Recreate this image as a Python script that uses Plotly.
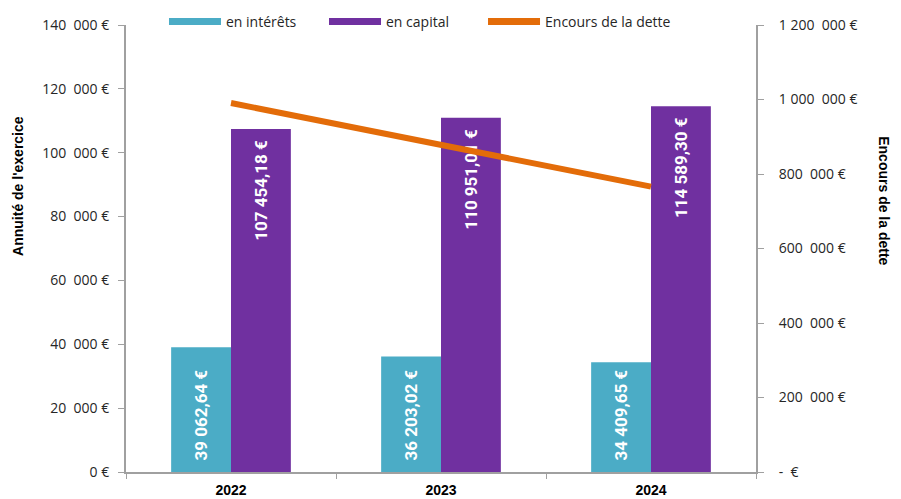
import plotly.graph_objects as go

# ── Data ──────────────────────────────────────────────────────────────────────
years = ['2022', '2023', '2024']
interets = [39062.64, 36203.02, 34409.65]
capital = [107454.18, 110951.01, 114589.30]
encours = [990500, 880000, 766000]

interets_txt = ['39 062,64 €', '36 203,02 €', '34 409,65 €']
capital_txt = ['107 454,18 €', '110 951,01 €', '114 589,30 €']

left_vals = [0, 20000, 40000, 60000, 80000, 100000, 120000, 140000]
left_text = ['0 €', '20  000 €', '40  000 €', '60  000 €', '80  000 €',
             '100  000 €', '120  000 €', '140  000 €']
right_vals = [0, 200000, 400000, 600000, 800000, 1000000, 1200000]
right_text = ['-  €', '200  000 €', '400  000 €', '600  000 €', '800  000 €',
              '1 000  000 €', '1 200  000 €']

CYAN = '#4BACC6'
PURPLE = '#7030A0'
ORANGE = '#E36C09'
FONT = 'Open Sans, Noto Sans, sans-serif'
BOLD = 'Liberation Sans, Arial, sans-serif'
LABEL_FONT = dict(family='Roboto, sans-serif', size=17, color='white')

# page body has an 8px margin, so the figure is 8px smaller than the window
W, H = 893, 491

# ── Figure ────────────────────────────────────────────────────────────────────
fig = go.Figure()

fig.add_trace(go.Bar(
    x=years, y=interets, name='en intérêts', showlegend=False,
    marker=dict(color=CYAN, line=dict(width=0)),
    text=interets_txt, textposition='inside', textangle=-90,
    insidetextanchor='start', textfont=LABEL_FONT,
    texttemplate='<b>  %{text}</b>',
))
fig.add_trace(go.Bar(
    x=years, y=capital, name='en capital', showlegend=False,
    marker=dict(color=PURPLE, line=dict(width=0)),
    text=capital_txt, textposition='inside', textangle=-90,
    insidetextanchor='end', textfont=LABEL_FONT,
    texttemplate='<b>%{text}  </b>',
))
fig.add_trace(go.Scatter(
    x=years, y=encours, name='Encours de la dette', yaxis='y2',
    mode='lines', line=dict(color=ORANGE, width=6), showlegend=False,
))

# legend entries (wide rectangles like the original), one legend each
legend_x = [0.0603, 0.3143, 0.5667]
for i, (name, color) in enumerate([('en intérêts', CYAN), ('en capital', PURPLE),
                                   ('Encours de la dette', ORANGE)]):
    lg = 'legend' if i == 0 else f'legend{i + 1}'
    fig.add_trace(go.Scatter(
        x=[None], y=[None], name=name, mode='lines',
        line=dict(color=color, width=7), showlegend=True, legend=lg,
    ))
    fig.update_layout({lg: dict(
        orientation='h', x=legend_x[i], y=1.0067, xanchor='left',
        yanchor='middle', font=dict(size=14), itemwidth=52,
        bgcolor='rgba(0,0,0,0)',
    )})

fig.update_layout(
    width=W, height=H,
    margin=dict(l=118, r=145, t=17, b=27, autoexpand=False),
    paper_bgcolor='white', plot_bgcolor='white',
    font=dict(family=FONT, size=14, color='#262626'),
    barmode='group', bargap=0.43, bargroupgap=0,
    showlegend=True,
    xaxis=dict(showline=True, linecolor='#A0A0A0', linewidth=2,
               ticks='outside', tickson='boundaries', tickcolor='#A0A0A0',
               ticklen=5, tickfont=dict(family=BOLD, size=14, color='black'),
               tickprefix='<b>', ticksuffix='</b>', automargin=False,
               ticklabelstandoff=4),
    yaxis=dict(range=[0, 140000], tickvals=left_vals, ticktext=left_text,
               showgrid=False, zeroline=False, showline=True,
               linecolor='#A0A0A0', linewidth=2, ticks='outside',
               tickcolor='#A0A0A0', ticklen=6, ticklabelstandoff=6,
               automargin=False),
    yaxis2=dict(range=[0, 1200000], tickvals=right_vals, ticktext=right_text,
                overlaying='y', side='right', showgrid=False, zeroline=False,
                showline=True, linecolor='#A0A0A0', linewidth=2,
                ticks='outside', tickcolor='#A0A0A0', ticklen=6,
                ticklabelstandoff=12, automargin=False),
)

fig.add_annotation(
    text="<b>Annuité de l'exercice</b>", textangle=-90,
    xref='paper', yref='paper', x=0, xanchor='center', xshift=-108,
    y=0.64, yanchor='middle', showarrow=False,
    font=dict(family=BOLD, size=14, color='black'),
)
fig.add_annotation(
    text='<b>Encours de la dette</b>', textangle=90,
    xref='paper', yref='paper', x=1.0, xanchor='center', xshift=128,
    y=0.608, yanchor='middle', showarrow=False,
    font=dict(family=BOLD, size=14, color='black'),
)

fig.write_html('out.html')
